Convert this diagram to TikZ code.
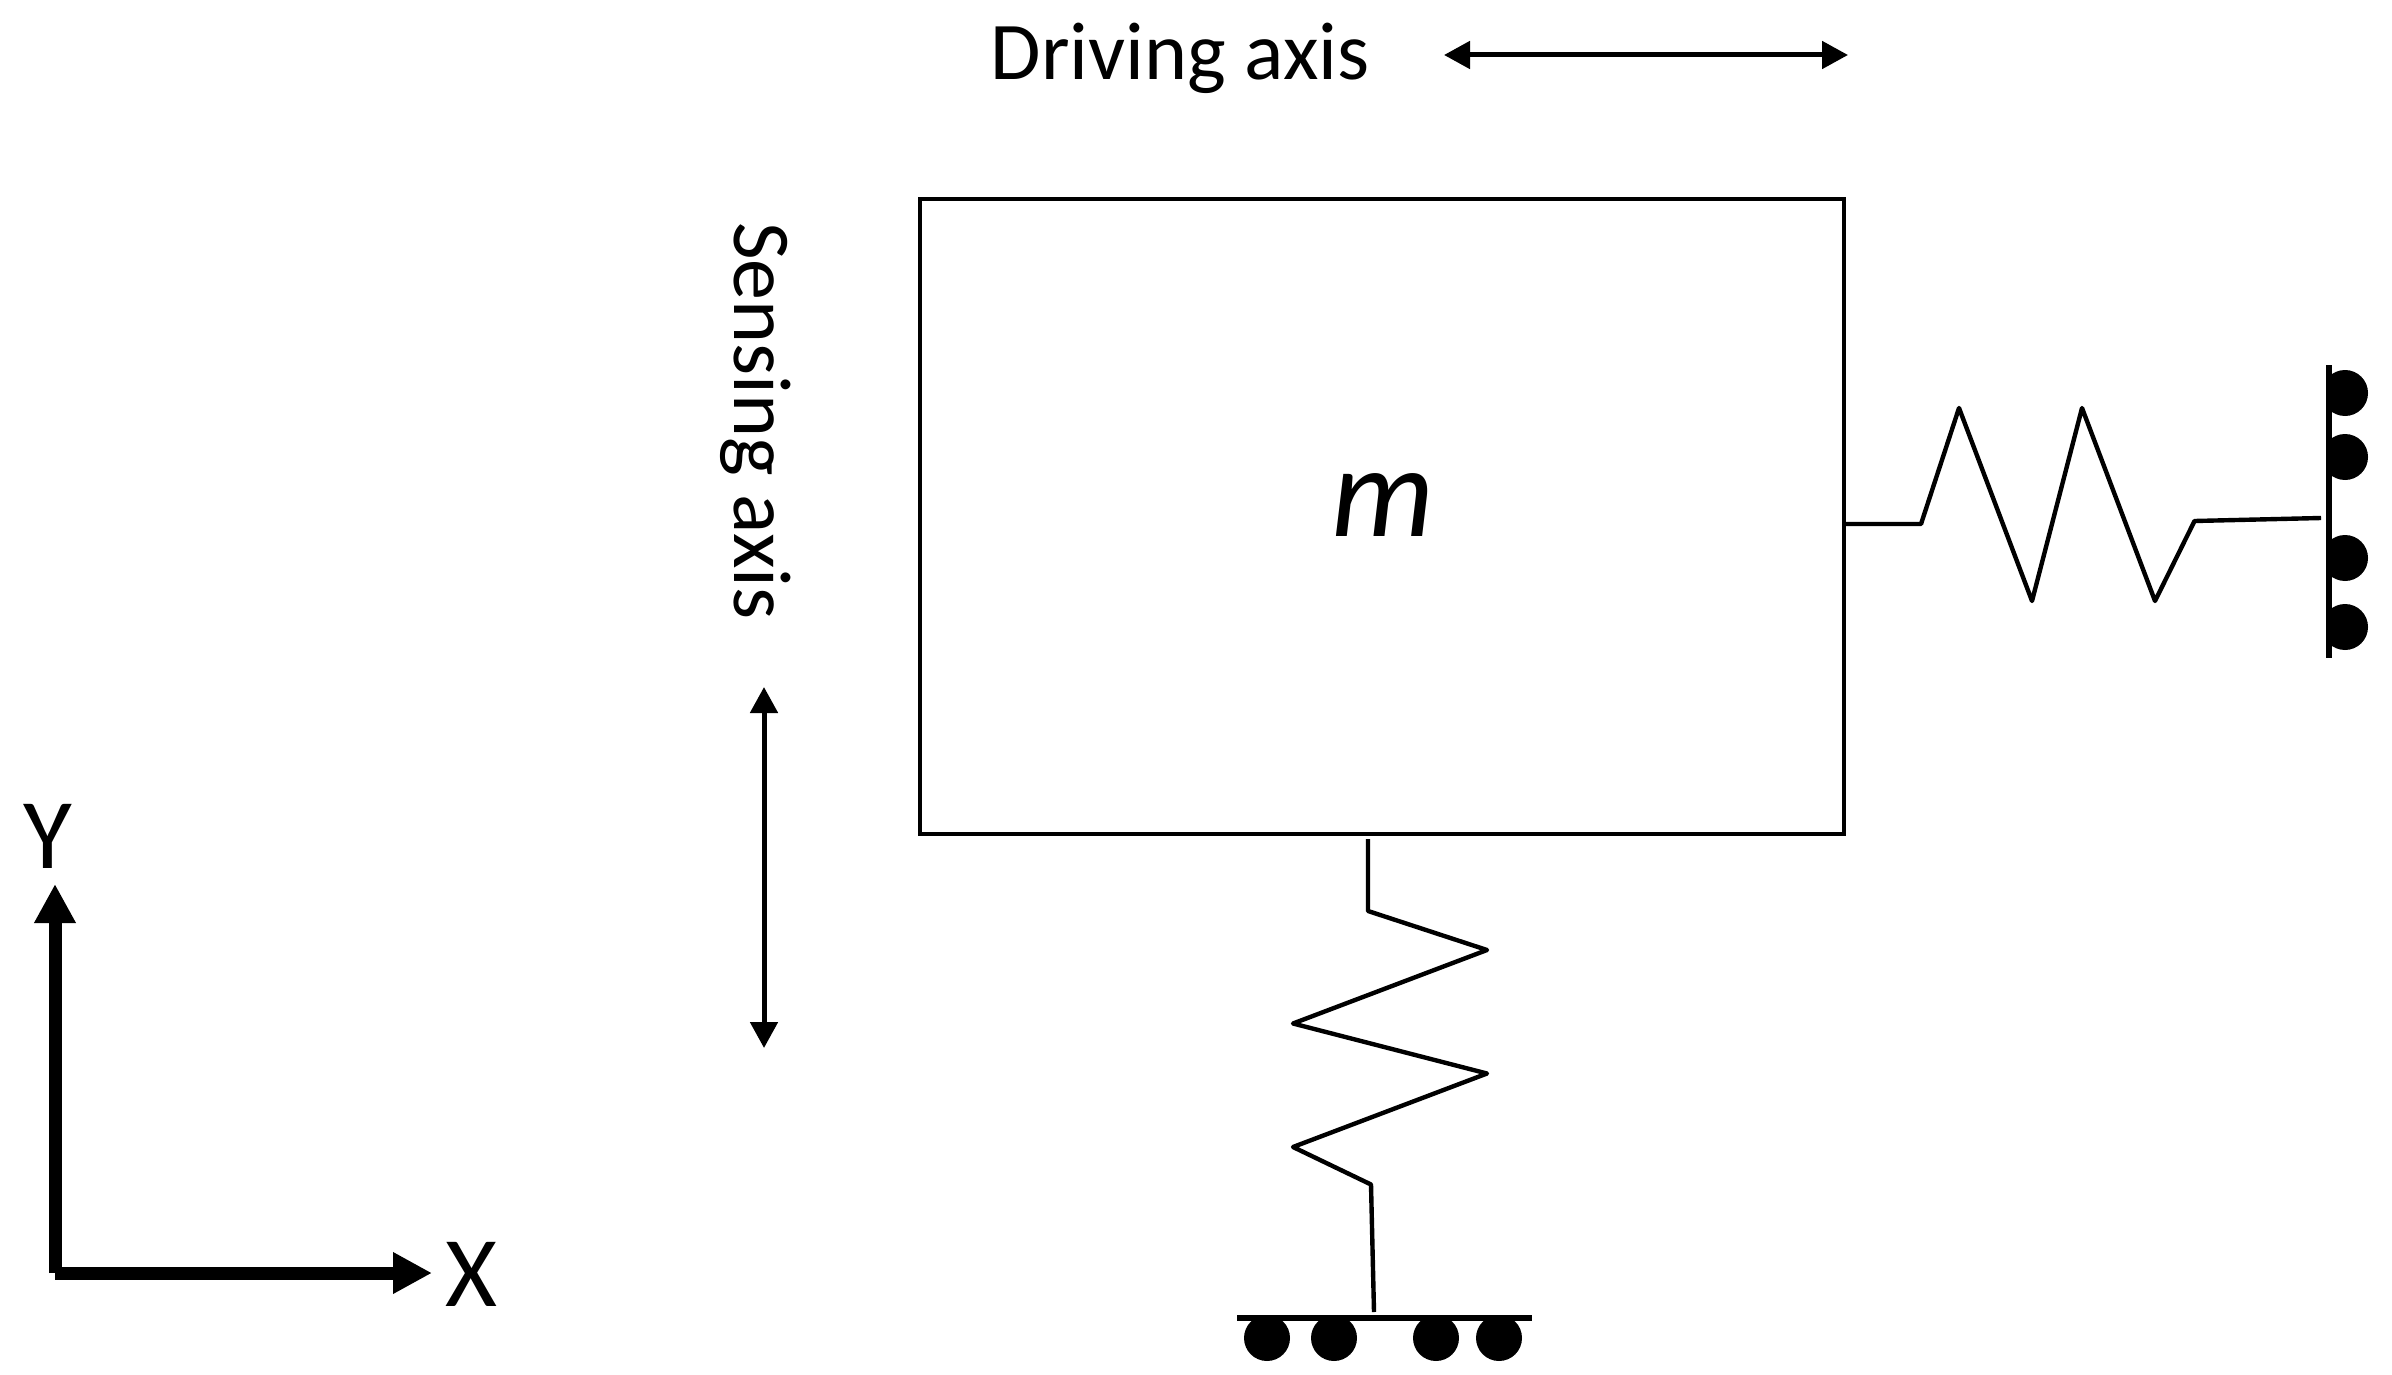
\documentclass[tikz,border=0pt]{standalone}
\usepackage{fontspec}
\setmainfont{Carlito}
\usepackage{tikz}
\usetikzlibrary{arrows.meta}

\begin{document}
\begin{tikzpicture}[x=0.5pt,y=-0.5pt,
every node/.style={inner sep=0pt,outer sep=0pt},
massbox/.style={draw,line width=1.8pt,minimum width=462pt,minimum height=317.5pt},
spring/.style={line width=2.2pt,line join=round},
ground/.style={line width=3pt},
roller/.style={circle,fill=black,minimum size=23pt},
axistext/.style={font=\fontsize{41}{49}\selectfont},
frametext/.style={font=\fontsize{50}{60}\selectfont},
motion/.style={line width=2.5pt,{Triangle[length=13pt,width=13.5pt]}-{Triangle[length=13pt,width=13.5pt]}},
frame/.style={line width=6.5pt,-{Triangle[length=19.5pt,width=19.5pt]}}]
\useasboundingbox (0,0) rectangle (2392,1375);
\node[massbox] (mass) at (1382,516.5) {};
\node[font=\fontsize{65}{78}\selectfont\itshape] (mlabel) at (1383,505) {m};
% axes labels
\node[axistext] (driving) at (1180,58) {Driving axis};
\node[axistext,rotate=-90] (sensing) at (756,421) {Sensing axis};
\coordinate (da) at (1444,55);
\coordinate (db) at (1848,55);
\draw[motion] (da) -- (db);
\coordinate (sa) at (764,687);
\coordinate (sb) at (764,1048);
\draw[motion] (sa) -- (sb);
% frame
\coordinate (org) at (55,1273);
\coordinate (yend) at (55,884);
\coordinate (xend) at (432,1273);
\draw[frame] (org) -- (yend);
\draw[frame] (org) -- (xend);
\node[frametext] (ylabel) at (48,836) {Y};
\node[frametext] (xlabel) at (471,1274) {X};
% bottom spring
\coordinate (bs0) at (1368,839);
\coordinate (bs1) at (1368,911);
\coordinate (bs2) at (1487,950);
\coordinate (bs3) at (1293,1023.5);
\coordinate (bs4) at (1487,1073.5);
\coordinate (bs5) at (1293,1147);
\coordinate (bs6) at (1371,1184.5);
\coordinate (bs7) at (1374,1312);
\draw[spring] (bs0) -- (bs1) -- (bs2) -- (bs3) -- (bs4) -- (bs5) -- (bs6) -- (bs7);
\coordinate (ba) at (1237,1318);
\coordinate (bb) at (1532,1318);
\draw[ground] (ba) -- (bb);
\node[roller] (b1) at (1267,1338) {};
\node[roller] (b2) at (1334,1338) {};
\node[roller] (b3) at (1436,1338) {};
\node[roller] (b4) at (1499,1338) {};
% right spring
\coordinate (rs0) at (1843,524);
\coordinate (rs1) at (1921,524);
\coordinate (rs2) at (1959,408);
\coordinate (rs3) at (2032,601);
\coordinate (rs4) at (2082,408);
\coordinate (rs5) at (2155,601);
\coordinate (rs6) at (2194.5,521);
\coordinate (rs7) at (2321,518);
\draw[spring] (rs0) -- (rs1) -- (rs2) -- (rs3) -- (rs4) -- (rs5) -- (rs6) -- (rs7);
\coordinate (wa) at (2328.5,365);
\coordinate (wb) at (2328.5,658);
\begin{scope}
\clip (2328.5,340) rectangle (2392,680);
\node[roller] (r1) at (2345,393) {};
\node[roller] (r2) at (2345,457) {};
\node[roller] (r3) at (2345,558) {};
\node[roller] (r4) at (2345,627) {};
\end{scope}
\draw[ground] (wa) -- (wb);
\end{tikzpicture}
\end{document}
